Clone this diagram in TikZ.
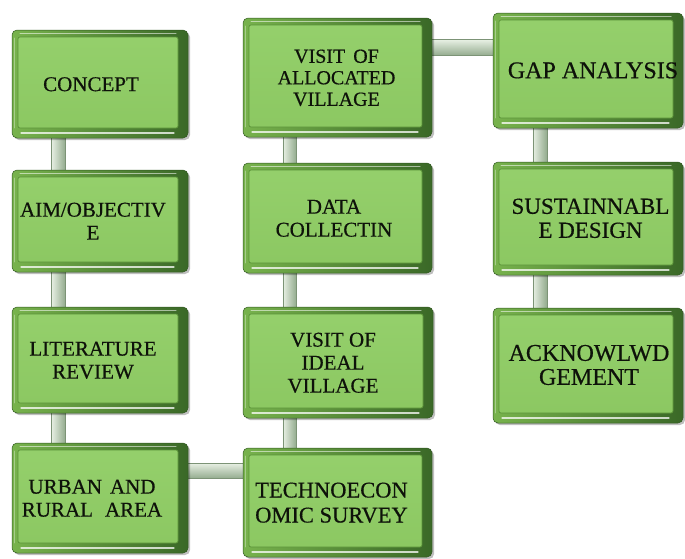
\documentclass[tikz,border=0pt]{standalone}
\usepackage{fontspec}
\setmainfont{Liberation Serif}
\newfontfamily\boxfont{Liberation Serif}[FakeBold=0.5]
\usetikzlibrary{shadows}
\pgfdeclarelayer{background}
\pgfsetlayers{background,main}

\definecolor{facegreen}{HTML}{95D06C}
\definecolor{facelow}{HTML}{8BC761}
\definecolor{rimlight}{HTML}{78B34D}
\definecolor{rimdark}{HTML}{3A6827}
\definecolor{faceedge}{HTML}{5A9238}
\definecolor{barlight}{HTML}{E8F0E4}
\definecolor{bardark}{HTML}{93AB8E}
\definecolor{baredge}{HTML}{7C9376}
\definecolor{inkdark}{HTML}{0E120A}

% centred block of lines, nudged left (#1 > 0) or right (#1 < 0) by half of #1,
% and set a little lower on the face
\newcommand\facebody[1]{\raisebox{-2.5pt}[\height][\depth]{\begin{tabular}{@{}c@{}}#1\end{tabular}}}
\newcommand\facetext[2]{%
  \ifdim#1>0pt\relax
    \facebody{#2}\hspace*{#1}%
  \else
    \hspace*{-#1}\facebody{#2}%
  \fi}

\tikzset{
  stepbox/.style={
    rounded corners=5pt, draw=rimdark!85!black, line width=0.5pt,
    left color=rimlight, right color=rimdark,
    drop shadow={shadow xshift=2pt, shadow yshift=-2pt, opacity=.25, fill=black},
    align=center, text=inkdark, inner sep=0pt,
    font=\boxfont\fontsize{21}{23}\selectfont,
    path picture={
      % recessed face of the button
      \path[top color=facegreen, bottom color=facelow, draw=faceedge,
            line width=0.7pt, rounded corners=2pt]
        ([shift={(6pt,-7pt)}]path picture bounding box.north west) rectangle
        ([shift={(-10pt,10pt)}]path picture bounding box.south east);
      % glossy bevel highlights
      \draw[white, opacity=.55, line width=1pt, line cap=round]
        ([shift={(8pt,-3.5pt)}]path picture bounding box.north west) --
        ([shift={(-12pt,-3.5pt)}]path picture bounding box.north east);
      \draw[white, opacity=.75, line width=1.3pt, line cap=round]
        ([shift={(9pt,5pt)}]path picture bounding box.south west) --
        ([shift={(-14pt,5pt)}]path picture bounding box.south east);
      \draw[white, opacity=.35, line width=0.8pt, line cap=round]
        ([shift={(2.5pt,-8pt)}]path picture bounding box.north west) --
        ([shift={(2.5pt,10pt)}]path picture bounding box.south west);
    }
  },
  barv/.style={left color=barlight, right color=bardark, draw=baredge, line width=0.4pt},
  barh/.style={top color=barlight, bottom color=bardark, draw=baredge, line width=0.4pt}
}

\begin{document}
\begin{tikzpicture}[x=1pt, y=-1pt]
\useasboundingbox (0,0) rectangle (685,558);

% first column
\node[stepbox, minimum width=176pt, minimum height=108pt] (concept) at (100,84) {\facetext{18pt}{CONCEPT}};
\node[stepbox, minimum width=176pt, minimum height=102pt] (aim) at (100,221) {\facetext{14pt}{AIM/OBJECTIV\\E}};
\node[stepbox, minimum width=176pt, minimum height=106pt] (lit) at (100,360) {\facetext{14pt}{LITERATURE\\REVIEW}};
\node[stepbox, minimum width=176pt, minimum height=110pt] (urban) at (100,498) {\facetext{16pt}{URBAN\hspace{8pt}AND\\RURAL\hspace{12pt}AREA}};

% second column
\node[stepbox, minimum width=189pt, minimum height=119pt, font=\boxfont\fontsize{20}{21.5}\selectfont] (voav) at (337.5,77.5) {\facetext{2pt}{VISIT\hspace{8pt}OF\\ALLOCATED\\VILLAGE}};
\node[stepbox, minimum width=189pt, minimum height=110pt] (data) at (337.5,218) {\facetext{7pt}{DATA\\COLLECTIN}};
\node[stepbox, minimum width=190pt, minimum height=111pt] (voiv) at (338,362.5) {\facetext{10pt}{VISIT OF\\IDEAL\\VILLAGE}};
\node[stepbox, minimum width=189pt, minimum height=109pt, font=\boxfont\fontsize{22.5}{25}\selectfont] (techno) at (337.5,502.5) {\facetext{12pt}{TECHNOECON\\OMIC SURVEY}};

% third column
\node[stepbox, minimum width=190pt, minimum height=115pt, font=\boxfont\fontsize{24}{26}\selectfont] (gap) at (588,70.5) {\facetext{-10pt}{GAP ANALYSIS}};
\node[stepbox, minimum width=190pt, minimum height=113pt, font=\boxfont\fontsize{23}{24}\selectfont] (sust) at (588,218.5) {\facetext{-5pt}{SUSTAINNABL\\E DESIGN}};
\node[stepbox, minimum width=190pt, minimum height=115pt, font=\boxfont\fontsize{24}{24}\selectfont] (ack) at (588,365.5) {\facetext{-2pt}{ACKNOWLWD\\GEMENT}};

% connecting rods behind the buttons
\begin{pgfonlayer}{background}
  \path[barv] ([shift={(39.5pt,3pt)}]concept.south west) rectangle ([shift={(53.5pt,-3pt)}]aim.north west);
  \path[barv] ([shift={(39.5pt,3pt)}]aim.south west) rectangle ([shift={(53.5pt,-3pt)}]lit.north west);
  \path[barv] ([shift={(39.5pt,3pt)}]lit.south west) rectangle ([shift={(53.5pt,-3pt)}]urban.north west);

  \path[barv] ([shift={(40pt,3pt)}]voav.south west) rectangle ([shift={(53.5pt,-3pt)}]data.north west);
  \path[barv] ([shift={(40pt,3pt)}]data.south west) rectangle ([shift={(53.5pt,-3pt)}]voiv.north west);
  \path[barv] ([shift={(40pt,3pt)}]voiv.south west) rectangle ([shift={(53.5pt,-3pt)}]techno.north west);

  \path[barv] ([shift={(40pt,3pt)}]gap.south west) rectangle ([shift={(54pt,-3pt)}]sust.north west);
  \path[barv] ([shift={(40pt,3pt)}]sust.south west) rectangle ([shift={(54pt,-3pt)}]ack.north west);

  \path[barh] ([shift={(-3pt,38pt)}]voav.east) rectangle ([shift={(3pt,15pt)}]gap.west);
  \path[barh] ([shift={(-3pt,35pt)}]urban.east) rectangle ([shift={(3pt,24pt)}]techno.west);
\end{pgfonlayer}
\end{tikzpicture}
\end{document}
